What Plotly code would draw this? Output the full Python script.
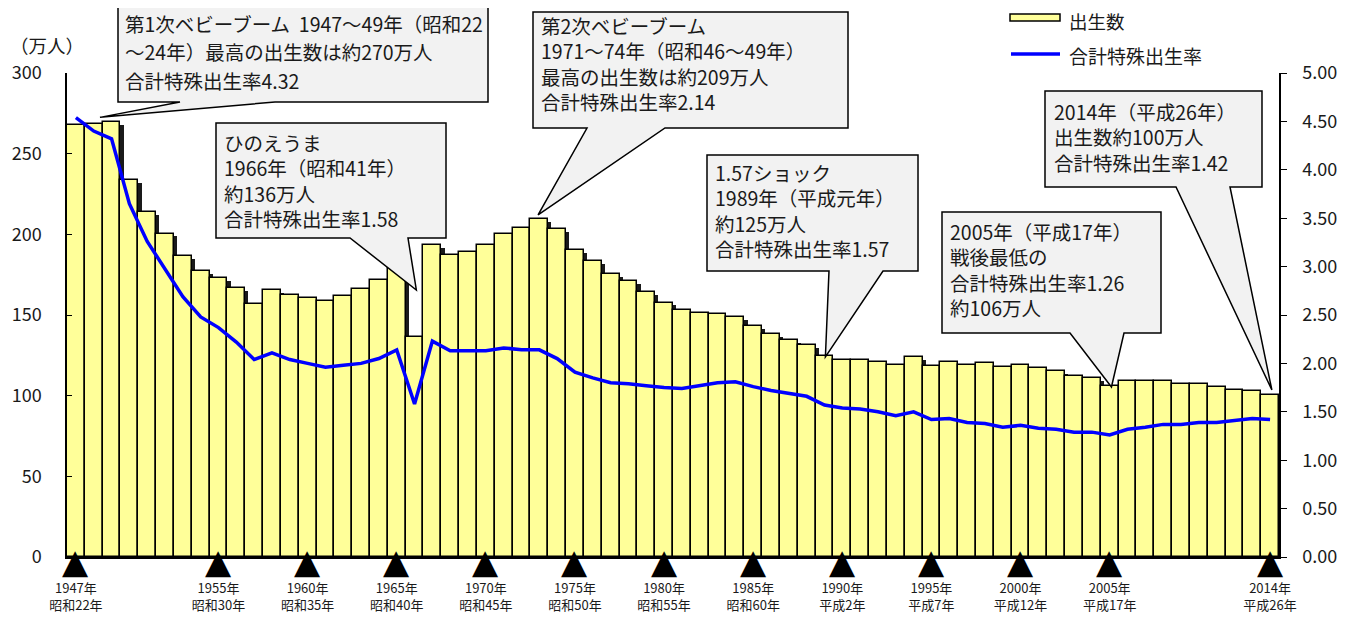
import plotly.graph_objects as go

# ---------------- data ----------------
years = list(range(1947, 2015))
births = [267.9, 268.2, 269.7, 233.8, 213.8, 200.5, 186.8, 177.0, 173.1, 166.5,
          156.7, 165.3, 162.6, 160.6, 158.9, 161.9, 166.0, 171.7, 182.4, 136.1,
          193.6, 187.2, 188.9, 193.4, 200.1, 203.9, 209.2, 203.0, 190.1, 183.3,
          175.5, 170.9, 164.3, 157.7, 152.9, 151.5, 150.9, 149.0, 143.2, 138.3,
          134.7, 131.4, 124.7, 122.2, 122.3, 120.9, 118.8, 123.8, 118.7, 120.7,
          119.2, 120.3, 117.8, 119.1, 117.1, 115.4, 112.4, 111.1, 106.3, 109.3,
          109.0, 109.1, 107.0, 107.1, 105.1, 103.7, 103.0, 100.4]
tfr = [4.54, 4.40, 4.32, 3.65, 3.26, 2.98, 2.69, 2.48, 2.37, 2.22,
       2.04, 2.11, 2.04, 2.00, 1.96, 1.98, 2.00, 2.05, 2.14, 1.58,
       2.23, 2.13, 2.13, 2.13, 2.16, 2.14, 2.14, 2.05, 1.91, 1.85,
       1.80, 1.79, 1.77, 1.75, 1.74, 1.77, 1.80, 1.81, 1.76, 1.72,
       1.69, 1.66, 1.57, 1.54, 1.53, 1.50, 1.46, 1.50, 1.42, 1.43,
       1.39, 1.38, 1.34, 1.36, 1.33, 1.32, 1.29, 1.29, 1.26, 1.32,
       1.34, 1.37, 1.37, 1.39, 1.39, 1.41, 1.43, 1.42]
marker_years = [1947, 1955, 1960, 1965, 1970, 1975, 1980, 1985, 1990, 1995, 2000, 2005, 2014]
marker_labels = ["1947年<br>昭和22年", "1955年<br>昭和30年", "1960年<br>昭和35年",
                 "1965年<br>昭和40年", "1970年<br>昭和45年", "1975年<br>昭和50年",
                 "1980年<br>昭和55年", "1985年<br>昭和60年", "1990年<br>平成2年",
                 "1995年<br>平成7年", "2000年<br>平成12年", "2005年<br>平成17年",
                 "2014年<br>平成26年"]
left_ticks = [0, 50, 100, 150, 200, 250, 300]
right_ticks = [0, 0.5, 1.0, 1.5, 2.0, 2.5, 3.0, 3.5, 4.0, 4.5, 5.0]

# callouts: text lines, box (page pixels), pointer base (pixels), tip (year, value)
callouts = [
    dict(lines=["第1次ベビーブーム  1947〜49年（昭和22", "〜24年）最高の出生数は約270万人", "合計特殊出生率4.32"],
         box=(118, 6, 488, 102), base=(180, 275), tip=(1948.35, 272.5),
         tx=123, ty=[23, 52, 81], split=True),
    dict(lines=["ひのえうま", "1966年（昭和41年）", "約136万人", "合計特殊出生率1.58"],
         box=(216, 123, 446, 238), base=(350, 408), tip=(1966.1, 165.5),
         tx=222, tc=180, split=False),
    dict(lines=["第2次ベビーブーム", "1971〜74年（昭和46〜49年）", "最高の出生数は約209万人", "合計特殊出生率2.14"],
         box=(533, 12, 848, 128), base=(587, 665), tip=(1972.93, 212),
         tx=539, tc=64, split=False),
    dict(lines=["1.57ショック", "1989年（平成元年）", "約125万人", "合計特殊出生率1.57"],
         box=(707, 155, 918, 271), base=(829, 883), tip=(1989.05, 124.0),
         tx=713, tc=210, split=False),
    dict(lines=["2005年（平成17年）", "戦後最低の", "合計特殊出生率1.26", "約106万人"],
         box=(942, 212, 1161, 333), base=(1070, 1124), tip=(2005.1, 105.4),
         tx=948, tc=269, split=False),
    dict(lines=["2014年（平成26年）", "出生数約100万人", "合計特殊出生率1.42"],
         box=(1045, 91, 1262, 187), base=(1176, 1230), tip=(2014.1, 103.5),
         tx=1052, tc=137, split=False),
]

# ---------------- geometry helpers ----------------
OFF = 8                      # body margin of the html page
W, H = 1354 - 2 * OFF, 622 - 2 * OFF
L, R, T, B = 67, 1279, 73, 557   # plot area in page pixels
XR = [1946.5, 2014.5]
YR = [0, 300]
FONT = "Noto Sans CJK JP, Noto Sans, sans-serif"
TXT = "#1a1a1a"


def px(xp):
    return (xp - L) / (R - L)


def py(yp):
    return (B - yp) / (B - T)


def dx(year):
    return (year - XR[0]) / (XR[1] - XR[0])


def dy(v):
    return (v - YR[0]) / (YR[1] - YR[0])


fig = go.Figure()

# shadow of bars
fig.add_trace(go.Bar(x=[y + 0.18 for y in years], y=[b - 1.8 for b in births],
                     width=1, marker=dict(color="#1a1a1a", line=dict(width=0)),
                     hoverinfo="skip", showlegend=False))
# bars
fig.add_trace(go.Bar(x=years, y=births, width=1, name="出生数",
                     marker=dict(color="#FFFF99", line=dict(color="black", width=1.5)),
                     showlegend=False))
# tfr line
fig.add_trace(go.Scatter(x=years, y=tfr, yaxis="y2", mode="lines", name="合計特殊出生率",
                         line=dict(color="#0000FF", width=3.5), showlegend=False))

shapes = []
annotations = []
for c in callouts:
    x0, y0, x1, y1 = c["box"]
    b0, b1 = c["base"]
    tx, ty = dx(c["tip"][0]), dy(c["tip"][1])
    pts = [(px(x0), py(y0)), (px(x1), py(y0)), (px(x1), py(y1)), (px(b1), py(y1)),
           (tx, ty), (px(b0), py(y1)), (px(x0), py(y1))]
    path = "M " + " L ".join(f"{a:.5f},{b:.5f}" for a, b in pts) + " Z"
    shapes.append(dict(type="path", xref="paper", yref="paper", path=path,
                       fillcolor="#F2F2F2", line=dict(color="black", width=1.5), layer="above"))
    if c["split"]:
        for line, yy in zip(c["lines"], c["ty"]):
            annotations.append(dict(xref="paper", yref="paper", x=px(c["tx"]), y=py(yy),
                                    xanchor="left", yanchor="middle", showarrow=False,
                                    text=line, font=dict(size=19.5, color=TXT, family=FONT)))
    else:
        annotations.append(dict(xref="paper", yref="paper", x=px(c["tx"]), y=py(c["tc"]),
                                xanchor="left", yanchor="middle", align="left", showarrow=False,
                                text="<br>".join(c["lines"]),
                                font=dict(size=19.5, color=TXT, family=FONT)))

# triangle markers under the axis at the labelled years
for yr in marker_years:
    annotations.append(dict(xref="x", yref="paper", x=yr, y=py(561), xanchor="center",
                            yanchor="middle", showarrow=False, text="▲",
                            font=dict(size=34, color="black", family="DejaVu Sans")))

# legend
shapes.append(dict(type="rect", xref="paper", yref="paper", x0=px(1010), x1=px(1060),
                   y0=py(21), y1=py(14), fillcolor="#FFFF99", line=dict(color="black", width=1.5)))
shapes.append(dict(type="line", xref="paper", yref="paper", x0=px(1011), x1=px(1060),
                   y0=py(54), y1=py(54), line=dict(color="#0000FF", width=3.5)))
annotations.append(dict(xref="paper", yref="paper", x=px(1067), y=py(21), xanchor="left",
                        yanchor="middle", showarrow=False, text="出生数",
                        font=dict(size=18.5, color=TXT, family=FONT)))
annotations.append(dict(xref="paper", yref="paper", x=px(1067), y=py(56), xanchor="left",
                        yanchor="middle", showarrow=False, text="合計特殊出生率",
                        font=dict(size=19, color=TXT, family=FONT)))
# unit label
annotations.append(dict(xref="paper", yref="paper", x=px(8), y=py(45), xanchor="left",
                        yanchor="middle", showarrow=False, text="（万人）",
                        font=dict(size=18.5, color=TXT, family=FONT)))

fig.update_layout(
    width=W, height=H,
    margin=dict(l=L - OFF, r=W - (R - OFF), t=T - OFF, b=H - (B - OFF), pad=0, autoexpand=False),
    paper_bgcolor="white", plot_bgcolor="white",
    barmode="overlay", bargap=0,
    font=dict(family=FONT, color=TXT),
    xaxis=dict(range=XR, tickmode="array", tickvals=marker_years, ticktext=marker_labels,
               ticks="", showline=True, linecolor="black", linewidth=1.5, showgrid=False,
               zeroline=False, tickfont=dict(size=13), ticklabelstandoff=19, automargin=False),
    yaxis=dict(range=YR, tickmode="array", tickvals=left_ticks, ticks="inside", ticklen=5,
               tickcolor="black", showline=True, linecolor="black", linewidth=1.5,
               showgrid=False, zeroline=False, tickfont=dict(size=18), ticklabelstandoff=20,
               automargin=False),
    yaxis2=dict(range=[0, 5], overlaying="y", side="right", tickmode="array",
                tickvals=right_ticks, tickformat=".2f", ticks="outside", ticklen=6,
                tickcolor="black", showline=True, linecolor="black", linewidth=1.5,
                showgrid=False, zeroline=False, tickfont=dict(size=18), ticklabelstandoff=12,
                automargin=False),
    shapes=shapes, annotations=annotations,
)

fig.write_html("out.html")
